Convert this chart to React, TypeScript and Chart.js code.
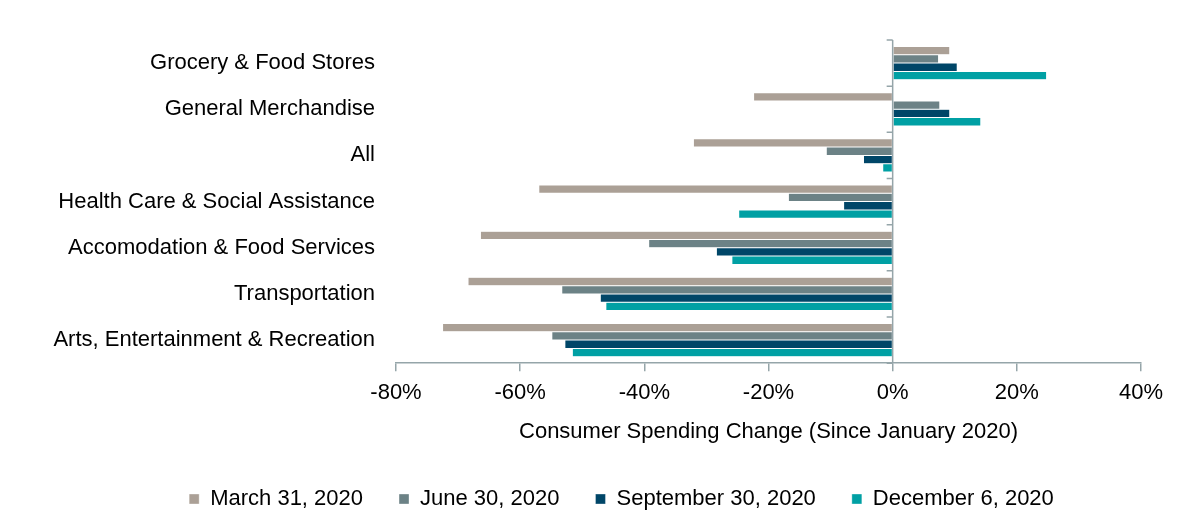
import React, { useEffect, useRef } from "react";
import { Chart, registerables } from "chart.js";

Chart.register(...registerables);

const categories = [
  "Grocery & Food Stores",
  "General Merchandise",
  "All",
  "Health Care & Social Assistance",
  "Accomodation & Food Services",
  "Transportation",
  "Arts, Entertainment & Recreation",
];

const seriesNames = ["March 31, 2020", "June 30, 2020", "September 30, 2020", "December 6, 2020"];

const march31 = [9.2, -22.4, -32.1, -57.0, -66.4, -68.4, -72.5];
const june30 = [7.4, 7.6, -10.7, -16.8, -39.3, -53.3, -54.9];
const sept30 = [10.4, 9.2, -4.7, -7.9, -28.4, -47.1, -52.8];
const dec6 = [24.8, 14.2, -1.6, -24.8, -25.9, -46.2, -51.6];

const seriesColors = ["#aba096", "#6c8286", "#004668", "#00a0a4"];

const xTicks = [-80, -60, -40, -20, 0, 20, 40];

const AXIS_COLOR = "#95a5a9";
const FONT = "'Liberation Sans', Arial, sans-serif";
const LEGEND_SHIFT = 47;

const zeroAxisPlugin = {
  id: "zeroAxis",
  afterLayout(chart: any) {
    const l = chart.legend;
    if (l) {
      l.left += LEGEND_SHIFT;
      l.right += LEGEND_SHIFT;
    }
  },
  afterDatasetsDraw(chart: any) {
    const { ctx, chartArea, scales } = chart;
    const x0 = scales.x.getPixelForValue(0);
    const n = categories.length;
    const step = (chartArea.bottom - chartArea.top) / n;
    ctx.save();
    ctx.strokeStyle = AXIS_COLOR;
    ctx.lineWidth = 1.5;
    ctx.beginPath();
    ctx.moveTo(x0, chartArea.top);
    ctx.lineTo(x0, chartArea.bottom);
    for (let i = 0; i <= n; i++) {
      const y = chartArea.top + i * step;
      ctx.moveTo(x0 - 6, y);
      ctx.lineTo(x0, y);
    }
    ctx.stroke();
    ctx.restore();
  },
};

export default function App() {
  const ref = useRef<HTMLCanvasElement | null>(null);
  useEffect(() => {
    if (!ref.current) return;
    const data = [march31, june30, sept30, dec6];
    const chart = new Chart(ref.current, {
      type: "bar",
      data: {
        labels: categories,
        datasets: seriesNames.map((name, i) => ({
          label: name,
          data: data[i],
          backgroundColor: seriesColors[i],
          borderColor: "rgba(255,255,255,0.7)",
          borderWidth: 0.5,
          categoryPercentage: 0.72,
          barPercentage: 1,
        })),
      },
      options: {
        indexAxis: "y",
        animation: false,
        responsive: true,
        maintainAspectRatio: false,
        layout: { padding: { top: 32, right: 41, left: 0, bottom: 0 } },
        plugins: {
          legend: {
            position: "bottom",
            labels: {
              boxWidth: 10,
              boxHeight: 10,
              padding: 36,
              color: "#000",
              font: { family: FONT, size: 22 },
            },
          },
          tooltip: { enabled: false },
        },
        scales: {
          x: {
            min: -80,
            max: 40,
            afterBuildTicks(scale: any) {
              scale.ticks = xTicks.map((v) => ({ value: v }));
            },
            ticks: {
              color: "#000",
              font: { family: FONT, size: 22 },
              padding: 9,
              maxRotation: 0,
              callback: (v: any) => `${v}%`,
            },
            grid: {
              drawOnChartArea: false,
              drawTicks: true,
              tickLength: 8,
              color: AXIS_COLOR,
              lineWidth: 1.5,
            },
            border: { display: true, color: AXIS_COLOR, width: 1.5 },
            title: {
              display: true,
              text: "Consumer Spending Change (Since January 2020)",
              color: "#000",
              font: { family: FONT, size: 22 },
              padding: { top: 3, bottom: 7 },
            },
          },
          y: {
            afterFit(scale: any) {
              scale.width = 388;
              scale.paddingTop = 0;
              scale.paddingBottom = 0;
            },
            ticks: {
              color: "#000",
              font: { family: FONT, size: 22 },
              padding: 21,
            },
            grid: { display: false, drawTicks: false },
            border: { display: false },
          },
        },
      },
      plugins: [zeroAxisPlugin],
    } as any);
    return () => chart.destroy();
  }, []);
  return (
    <div style={{ width: "100%", height: 512, position: "relative" }}>
      <canvas ref={ref} />
    </div>
  );
}
